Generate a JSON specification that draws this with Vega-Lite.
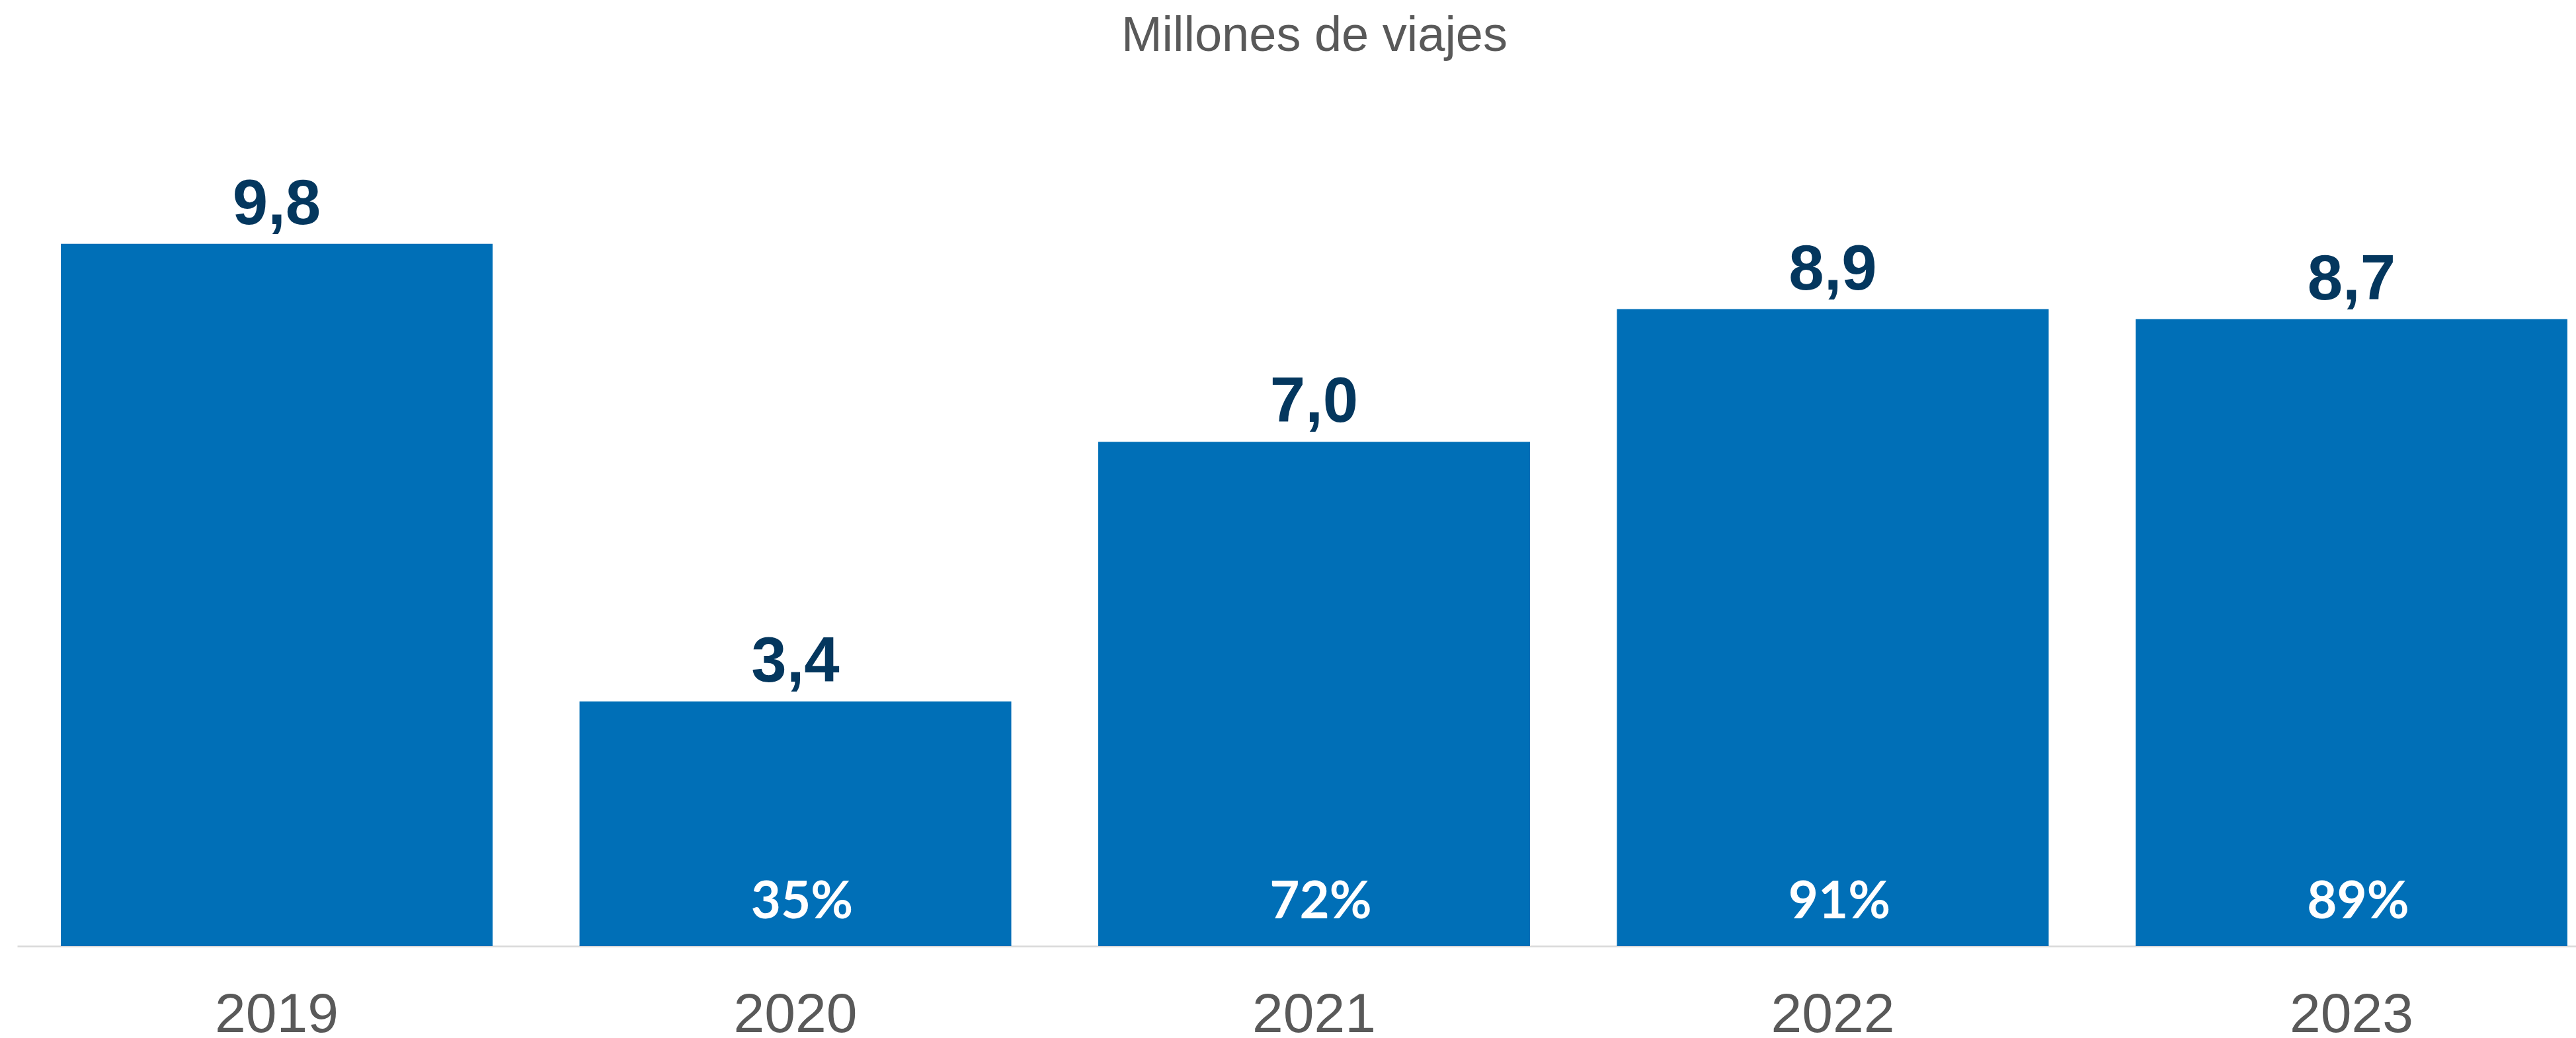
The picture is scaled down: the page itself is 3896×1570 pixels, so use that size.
{
  "$schema": "https://vega.github.io/schema/vega-lite/v6.json",
  "autosize": {"type": "none"},
  "width": 3870,
  "height": 1302,
  "padding": {"left": 26, "top": 129, "right": 0, "bottom": 139},
  "background": "white",
  "title": {
    "text": "Millones de viajes",
    "font": "Liberation Sans",
    "fontSize": 74,
    "fontWeight": "normal",
    "color": "#595959",
    "anchor": "middle",
    "baseline": "alphabetic",
    "offset": -22,
    "dx": 27
  },
  "data": {
    "values": [
      {"year": "2019", "viajes": 9.79, "pct": null},
      {"year": "2020", "viajes": 3.41, "pct": 0.35},
      {"year": "2021", "viajes": 7.03, "pct": 0.72},
      {"year": "2022", "viajes": 8.88, "pct": 0.91},
      {"year": "2023", "viajes": 8.74, "pct": 0.89}
    ]
  },
  "encoding": {
    "x": {
      "field": "year",
      "type": "nominal",
      "sort": null,
      "scale": {"paddingInner": 0.1676, "paddingOuter": 0.0504, "align": 0.835},
      "axis": {
        "title": null,
        "labelAngle": 0,
        "labelFont": "Liberation Sans",
        "labelFontSize": 84,
        "labelColor": "#595959",
        "labelBaseline": "alphabetic",
        "labelPadding": 129,
        "labelLimit": 0,
        "ticks": false,
        "tickSize": 0,
        "grid": false,
        "domain": true,
        "domainColor": "#D9D9D9",
        "domainWidth": 2.5
      }
    }
  },
  "layer": [
    {
      "mark": {"type": "bar", "color": "#006FB7"},
      "encoding": {
        "y": {"field": "viajes", "type": "quantitative", "scale": {"domain": [0, 12], "nice": false}, "axis": null}
      }
    },
    {
      "mark": {"type": "text", "baseline": "alphabetic", "dy": -30, "font": "Liberation Sans", "fontWeight": "bold", "fontSize": 96, "color": "#04375E"},
      "encoding": {
        "y": {"field": "viajes", "type": "quantitative"},
        "text": {"field": "viajes", "type": "quantitative", "format": ".1f"}
      }
    },
    {
      "transform": [{"filter": "datum.pct != null"}],
      "mark": {"type": "text", "baseline": "alphabetic", "dy": -42, "dx": 10, "font": "Lato", "fontWeight": "bold", "fontSize": 78, "color": "white"},
      "encoding": {
        "y": {"datum": 0, "type": "quantitative"},
        "text": {"field": "pct", "type": "quantitative", "format": ".0%"}
      }
    }
  ],
  "config": {
    "view": {"stroke": null},
    "locale": {"number": {"decimal": ",", "thousands": ".", "grouping": [3], "currency": ["", " €"]}}
  }
}
